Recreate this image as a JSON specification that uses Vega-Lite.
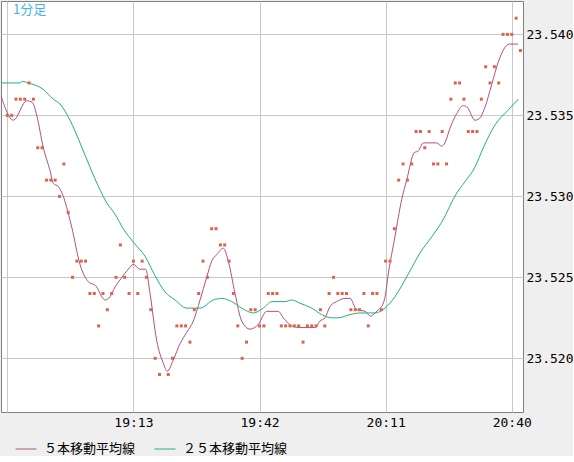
{
  "$schema": "https://vega.github.io/schema/vega-lite/v6.json",
  "description": "1分足 price dots with 5 and 25 bar moving averages",
  "width": 522,
  "height": 411,
  "padding": {"left": 1, "top": 1, "right": 0, "bottom": 0},
  "background": "#EFEFEF",
  "config": {
    "view": {"fill": "white", "stroke": "#808080"},
    "axis": {
      "grid": true,
      "gridColor": "#C8C8C8",
      "gridWidth": 1,
      "ticks": false,
      "domain": false,
      "title": null,
      "labelFont": "DejaVu Sans Mono",
      "labelFontSize": 13,
      "labelColor": "#000000",
      "labelOverlap": false
    }
  },
  "title": {
    "text": "1分足",
    "anchor": "start",
    "frame": "group",
    "orient": "top",
    "offset": -16,
    "baseline": "top",
    "dx": 12,
    "font": "Noto Sans CJK JP",
    "fontSize": 13,
    "fontWeight": "normal",
    "color": "#40B4E8"
  },
  "encoding": {
    "x": {
      "field": "t",
      "type": "temporal",
      "scale": {
        "domain": [
          {"year": 1900, "month": 1, "date": 1, "hours": 18, "minutes": 42, "seconds": 33},
          {"year": 1900, "month": 1, "date": 1, "hours": 20, "minutes": 42, "seconds": 35}
        ]
      },
      "axis": {
        "values": [
          {"year": 1900, "month": 1, "date": 1, "hours": 18, "minutes": 44},
          {"year": 1900, "month": 1, "date": 1, "hours": 19, "minutes": 13},
          {"year": 1900, "month": 1, "date": 1, "hours": 19, "minutes": 42},
          {"year": 1900, "month": 1, "date": 1, "hours": 20, "minutes": 11},
          {"year": 1900, "month": 1, "date": 1, "hours": 20, "minutes": 40}
        ],
        "labelExpr": "hours(datum.value) == 18 ? '' : timeFormat(datum.value, '%H:%M')",
        "labelPadding": 4,
        "labelFlush": false
      }
    },
    "y": {
      "field": "v",
      "type": "quantitative",
      "scale": {"domain": [23.516685, 23.54206], "zero": false, "nice": false},
      "axis": {
        "orient": "right",
        "values": [23.52, 23.525, 23.53, 23.535, 23.54],
        "format": ".3f",
        "labelPadding": 3
      }
    }
  },
  "layer": [
    {
      "data": {
        "format": {"parse": {"t": "date:'%H:%M:%S'"}},
        "values": [
          {"s": "５本移動平均線", "t": "18:42:33", "v": 23.5362},
          {"s": "５本移動平均線", "t": "18:45:23", "v": 23.5347},
          {"s": "５本移動平均線", "t": "18:48:28", "v": 23.5359},
          {"s": "５本移動平均線", "t": "18:49:45", "v": 23.5358},
          {"s": "５本移動平均線", "t": "18:50:46", "v": 23.5350},
          {"s": "５本移動平均線", "t": "18:52:17", "v": 23.5330},
          {"s": "５本移動平均線", "t": "18:53:49", "v": 23.5316},
          {"s": "５本移動平均線", "t": "18:54:35", "v": 23.5308},
          {"s": "５本移動平均線", "t": "18:55:44", "v": 23.5306},
          {"s": "５本移動平均線", "t": "18:56:53", "v": 23.5300},
          {"s": "５本移動平均線", "t": "18:57:40", "v": 23.5293},
          {"s": "５本移動平均線", "t": "18:58:49", "v": 23.5281},
          {"s": "５本移動平均線", "t": "19:00:43", "v": 23.5258},
          {"s": "５本移動平均線", "t": "19:02:24", "v": 23.5248},
          {"s": "５本移動平均線", "t": "19:04:34", "v": 23.5244},
          {"s": "５本移動平均線", "t": "19:05:43", "v": 23.5238},
          {"s": "５本移動平均線", "t": "19:06:28", "v": 23.5236},
          {"s": "５本移動平均線", "t": "19:07:37", "v": 23.5238},
          {"s": "５本移動平均線", "t": "19:08:46", "v": 23.5244},
          {"s": "５本移動平均線", "t": "19:10:04", "v": 23.5249},
          {"s": "５本移動平均線", "t": "19:11:49", "v": 23.5255},
          {"s": "５本移動平均線", "t": "19:12:58", "v": 23.5258},
          {"s": "５本移動平均線", "t": "19:14:31", "v": 23.5255},
          {"s": "５本移動平均線", "t": "19:15:49", "v": 23.5255},
          {"s": "５本移動平均線", "t": "19:16:49", "v": 23.5240},
          {"s": "５本移動平均線", "t": "19:18:21", "v": 23.5211},
          {"s": "５本移動平均線", "t": "19:19:52", "v": 23.5197},
          {"s": "５本移動平均線", "t": "19:20:47", "v": 23.5192},
          {"s": "５本移動平均線", "t": "19:22:10", "v": 23.5199},
          {"s": "５本移動平均線", "t": "19:23:43", "v": 23.5209},
          {"s": "５本移動平均線", "t": "19:25:15", "v": 23.5216},
          {"s": "５本移動平均線", "t": "19:26:46", "v": 23.5223},
          {"s": "５本移動平均線", "t": "19:28:19", "v": 23.5236},
          {"s": "５本移動平均線", "t": "19:29:51", "v": 23.5250},
          {"s": "５本移動平均線", "t": "19:31:00", "v": 23.5260},
          {"s": "５本移動平均線", "t": "19:32:09", "v": 23.5264},
          {"s": "５本移動平均線", "t": "19:33:40", "v": 23.5268},
          {"s": "５本移動平均線", "t": "19:34:49", "v": 23.5260},
          {"s": "５本移動平均線", "t": "19:36:22", "v": 23.5240},
          {"s": "５本移動平均線", "t": "19:37:54", "v": 23.5223},
          {"s": "５本移動平均線", "t": "19:39:49", "v": 23.5218},
          {"s": "５本移動平均線", "t": "19:41:43", "v": 23.5221},
          {"s": "５本移動平均線", "t": "19:43:38", "v": 23.5229},
          {"s": "５本移動平均線", "t": "19:46:19", "v": 23.5229},
          {"s": "５本移動平均線", "t": "19:47:28", "v": 23.5225},
          {"s": "５本移動平均線", "t": "19:49:23", "v": 23.5220},
          {"s": "５本移動平均線", "t": "19:51:18", "v": 23.5219},
          {"s": "５本移動平均線", "t": "19:54:45", "v": 23.5219},
          {"s": "５本移動平均線", "t": "19:55:54", "v": 23.5223},
          {"s": "５本移動平均線", "t": "19:57:03", "v": 23.5225},
          {"s": "５本移動平均線", "t": "19:58:12", "v": 23.5232},
          {"s": "５本移動平均線", "t": "19:59:44", "v": 23.5235},
          {"s": "５本移動平均線", "t": "20:01:39", "v": 23.5237},
          {"s": "５本移動平均線", "t": "20:02:48", "v": 23.5237},
          {"s": "５本移動平均線", "t": "20:04:20", "v": 23.5230},
          {"s": "５本移動平均線", "t": "20:06:15", "v": 23.5229},
          {"s": "５本移動平均線", "t": "20:07:34", "v": 23.5226},
          {"s": "５本移動平均線", "t": "20:08:33", "v": 23.5228},
          {"s": "５本移動平均線", "t": "20:09:19", "v": 23.5230},
          {"s": "５本移動平均線", "t": "20:10:05", "v": 23.5232},
          {"s": "５本移動平均線", "t": "20:10:52", "v": 23.5238},
          {"s": "５本移動平均線", "t": "20:11:36", "v": 23.5252},
          {"s": "５本移動平均線", "t": "20:13:08", "v": 23.5275},
          {"s": "５本移動平均線", "t": "20:14:41", "v": 23.5298},
          {"s": "５本移動平均線", "t": "20:15:50", "v": 23.5310},
          {"s": "５本移動平均線", "t": "20:17:35", "v": 23.5327},
          {"s": "５本移動平均線", "t": "20:18:30", "v": 23.5328},
          {"s": "５本移動平均線", "t": "20:19:39", "v": 23.5333},
          {"s": "５本移動平均線", "t": "20:22:44", "v": 23.5333},
          {"s": "５本移動平均線", "t": "20:23:53", "v": 23.5331},
          {"s": "５本移動平均線", "t": "20:24:38", "v": 23.5333},
          {"s": "５本移動平均線", "t": "20:25:47", "v": 23.5342},
          {"s": "５本移動平均線", "t": "20:27:20", "v": 23.5351},
          {"s": "５本移動平均線", "t": "20:28:51", "v": 23.5356},
          {"s": "５本移動平均線", "t": "20:29:46", "v": 23.5355},
          {"s": "５本移動平均線", "t": "20:31:32", "v": 23.5347},
          {"s": "５本移動平均線", "t": "20:32:32", "v": 23.5348},
          {"s": "５本移動平均線", "t": "20:33:50", "v": 23.5355},
          {"s": "５本移動平均線", "t": "20:35:23", "v": 23.5369},
          {"s": "５本移動平均線", "t": "20:36:54", "v": 23.5383},
          {"s": "５本移動平均線", "t": "20:39:26", "v": 23.5394},
          {"s": "５本移動平均線", "t": "20:41:30", "v": 23.5394},
          {"s": "２５本移動平均線", "t": "18:42:33", "v": 23.5370},
          {"s": "２５本移動平均線", "t": "18:46:55", "v": 23.5370},
          {"s": "２５本移動平均線", "t": "18:47:19", "v": 23.5371},
          {"s": "２５本移動平均線", "t": "18:48:50", "v": 23.5370},
          {"s": "２５本移動平均線", "t": "18:52:17", "v": 23.5366},
          {"s": "２５本移動平均線", "t": "18:54:35", "v": 23.5360},
          {"s": "２５本移動平均線", "t": "18:56:07", "v": 23.5357},
          {"s": "２５本移動平均線", "t": "18:58:25", "v": 23.5347},
          {"s": "２５本移動平均線", "t": "19:00:43", "v": 23.5333},
          {"s": "２５本移動平均線", "t": "19:03:01", "v": 23.5318},
          {"s": "２５本移動平均線", "t": "19:05:19", "v": 23.5304},
          {"s": "２５本移動平均線", "t": "19:06:52", "v": 23.5296},
          {"s": "２５本移動平均線", "t": "19:08:46", "v": 23.5289},
          {"s": "２５本移動平均線", "t": "19:10:40", "v": 23.5280},
          {"s": "２５本移動平均線", "t": "19:13:12", "v": 23.5271},
          {"s": "２５本移動平均線", "t": "19:15:40", "v": 23.5263},
          {"s": "２５本移動平均線", "t": "19:17:58", "v": 23.5251},
          {"s": "２５本移動平均線", "t": "19:20:16", "v": 23.5241},
          {"s": "２５本移動平均線", "t": "19:22:34", "v": 23.5236},
          {"s": "２５本移動平均線", "t": "19:25:15", "v": 23.5231},
          {"s": "２５本移動平均線", "t": "19:28:19", "v": 23.5231},
          {"s": "２５本移動平均線", "t": "19:31:22", "v": 23.5236},
          {"s": "２５本移動平均線", "t": "19:33:18", "v": 23.5237},
          {"s": "２５本移動平均線", "t": "19:35:36", "v": 23.5235},
          {"s": "２５本移動平均線", "t": "19:37:54", "v": 23.5231},
          {"s": "２５本移動平均線", "t": "19:40:34", "v": 23.5228},
          {"s": "２５本移動平均線", "t": "19:42:52", "v": 23.5231},
          {"s": "２５本移動平均線", "t": "19:44:47", "v": 23.5235},
          {"s": "２５本移動平均線", "t": "19:47:51", "v": 23.5235},
          {"s": "２５本移動平均線", "t": "19:49:23", "v": 23.5236},
          {"s": "２５本移動平均線", "t": "19:51:18", "v": 23.5234},
          {"s": "２５本移動平均線", "t": "19:53:59", "v": 23.5231},
          {"s": "２５本移動平均線", "t": "19:56:17", "v": 23.5227},
          {"s": "２５本移動平均線", "t": "19:58:35", "v": 23.5225},
          {"s": "２５本移動平均線", "t": "20:00:07", "v": 23.5225},
          {"s": "２５本移動平均線", "t": "20:02:48", "v": 23.5227},
          {"s": "２５本移動平均線", "t": "20:05:06", "v": 23.5228},
          {"s": "２５本移動平均線", "t": "20:08:33", "v": 23.5228},
          {"s": "２５本移動平均線", "t": "20:10:52", "v": 23.5231},
          {"s": "２５本移動平均線", "t": "20:13:08", "v": 23.5238},
          {"s": "２５本移動平均線", "t": "20:16:12", "v": 23.5252},
          {"s": "２５本移動平均線", "t": "20:18:53", "v": 23.5265},
          {"s": "２５本移動平均線", "t": "20:21:35", "v": 23.5275},
          {"s": "２５本移動平均線", "t": "20:23:53", "v": 23.5284},
          {"s": "２５本移動平均線", "t": "20:27:20", "v": 23.5302},
          {"s": "２５本移動平均線", "t": "20:29:14", "v": 23.5309},
          {"s": "２５本移動平均線", "t": "20:31:32", "v": 23.5318},
          {"s": "２５本移動平均線", "t": "20:33:27", "v": 23.5330},
          {"s": "２５本移動平均線", "t": "20:36:08", "v": 23.5344},
          {"s": "２５本移動平均線", "t": "20:39:04", "v": 23.5353},
          {"s": "２５本移動平均線", "t": "20:41:30", "v": 23.5360}
        ]
      },
      "mark": {"type": "line", "interpolate": "monotone", "strokeWidth": 1, "clip": true},
      "encoding": {
        "color": {
          "field": "s",
          "type": "nominal",
          "sort": null,
          "scale": {
            "domain": ["５本移動平均線", "２５本移動平均線"],
            "range": ["#B0507E", "#22B07E"]
          },
          "legend": {
            "orient": "none",
            "legendX": 14,
            "legendY": 437,
            "direction": "horizontal",
            "title": null,
            "padding": 0,
            "symbolType": "stroke",
            "symbolSize": 441,
            "symbolStrokeWidth": 1,
            "labelFont": "Noto Sans CJK JP",
            "labelFontSize": 13,
            "labelColor": "#000000",
            "labelOffset": 7,
            "columnPadding": 16
          }
        }
      }
    },
    {
      "data": {
        "format": {"parse": {"t": "date:'%H:%M'"}},
        "values": [
          {"t": "18:44", "v": 23.535}, {"t": "18:45", "v": 23.535}, {"t": "18:46", "v": 23.536},
          {"t": "18:47", "v": 23.536}, {"t": "18:48", "v": 23.536}, {"t": "18:49", "v": 23.537},
          {"t": "18:50", "v": 23.536}, {"t": "18:51", "v": 23.533}, {"t": "18:52", "v": 23.533},
          {"t": "18:53", "v": 23.531}, {"t": "18:54", "v": 23.531}, {"t": "18:55", "v": 23.531},
          {"t": "18:56", "v": 23.530}, {"t": "18:57", "v": 23.532}, {"t": "18:58", "v": 23.529},
          {"t": "18:59", "v": 23.525}, {"t": "19:00", "v": 23.526}, {"t": "19:01", "v": 23.526},
          {"t": "19:02", "v": 23.526}, {"t": "19:03", "v": 23.524}, {"t": "19:04", "v": 23.524},
          {"t": "19:05", "v": 23.522}, {"t": "19:06", "v": 23.524}, {"t": "19:07", "v": 23.523},
          {"t": "19:08", "v": 23.524}, {"t": "19:09", "v": 23.525}, {"t": "19:10", "v": 23.527},
          {"t": "19:11", "v": 23.525}, {"t": "19:12", "v": 23.524}, {"t": "19:13", "v": 23.526},
          {"t": "19:14", "v": 23.524}, {"t": "19:15", "v": 23.526}, {"t": "19:16", "v": 23.525},
          {"t": "19:17", "v": 23.523}, {"t": "19:18", "v": 23.520}, {"t": "19:19", "v": 23.519},
          {"t": "19:21", "v": 23.519}, {"t": "19:22", "v": 23.520}, {"t": "19:23", "v": 23.522},
          {"t": "19:24", "v": 23.522}, {"t": "19:25", "v": 23.522}, {"t": "19:26", "v": 23.521},
          {"t": "19:27", "v": 23.523}, {"t": "19:28", "v": 23.524}, {"t": "19:29", "v": 23.526},
          {"t": "19:30", "v": 23.525}, {"t": "19:31", "v": 23.528}, {"t": "19:32", "v": 23.528},
          {"t": "19:33", "v": 23.527}, {"t": "19:34", "v": 23.527}, {"t": "19:35", "v": 23.526},
          {"t": "19:36", "v": 23.524}, {"t": "19:37", "v": 23.522}, {"t": "19:38", "v": 23.520},
          {"t": "19:39", "v": 23.521}, {"t": "19:40", "v": 23.523}, {"t": "19:41", "v": 23.523},
          {"t": "19:42", "v": 23.522}, {"t": "19:43", "v": 23.522}, {"t": "19:44", "v": 23.524},
          {"t": "19:45", "v": 23.524}, {"t": "19:46", "v": 23.524}, {"t": "19:47", "v": 23.522},
          {"t": "19:48", "v": 23.522}, {"t": "19:49", "v": 23.522}, {"t": "19:50", "v": 23.522},
          {"t": "19:51", "v": 23.522}, {"t": "19:52", "v": 23.521}, {"t": "19:53", "v": 23.522},
          {"t": "19:54", "v": 23.522}, {"t": "19:55", "v": 23.522}, {"t": "19:56", "v": 23.523},
          {"t": "19:57", "v": 23.522}, {"t": "19:58", "v": 23.524}, {"t": "19:59", "v": 23.525},
          {"t": "20:00", "v": 23.524}, {"t": "20:01", "v": 23.524}, {"t": "20:02", "v": 23.524},
          {"t": "20:03", "v": 23.523}, {"t": "20:04", "v": 23.523}, {"t": "20:05", "v": 23.523},
          {"t": "20:06", "v": 23.524}, {"t": "20:07", "v": 23.522}, {"t": "20:08", "v": 23.524},
          {"t": "20:09", "v": 23.524}, {"t": "20:10", "v": 23.523}, {"t": "20:11", "v": 23.526},
          {"t": "20:12", "v": 23.526}, {"t": "20:13", "v": 23.528}, {"t": "20:14", "v": 23.531},
          {"t": "20:15", "v": 23.532}, {"t": "20:16", "v": 23.531}, {"t": "20:17", "v": 23.532},
          {"t": "20:18", "v": 23.534}, {"t": "20:19", "v": 23.534}, {"t": "20:20", "v": 23.533},
          {"t": "20:21", "v": 23.534}, {"t": "20:22", "v": 23.532}, {"t": "20:23", "v": 23.532},
          {"t": "20:24", "v": 23.534}, {"t": "20:25", "v": 23.532}, {"t": "20:26", "v": 23.536},
          {"t": "20:27", "v": 23.537}, {"t": "20:28", "v": 23.537}, {"t": "20:29", "v": 23.536},
          {"t": "20:30", "v": 23.534}, {"t": "20:31", "v": 23.534}, {"t": "20:32", "v": 23.534},
          {"t": "20:33", "v": 23.536}, {"t": "20:34", "v": 23.538}, {"t": "20:35", "v": 23.537},
          {"t": "20:36", "v": 23.538}, {"t": "20:37", "v": 23.537}, {"t": "20:38", "v": 23.540},
          {"t": "20:39", "v": 23.540}, {"t": "20:40", "v": 23.540}, {"t": "20:41", "v": 23.541},
          {"t": "20:42", "v": 23.539}
        ]
      },
      "mark": {"type": "square", "size": 9, "filled": true, "opacity": 1, "color": "#D8644A", "clip": true}
    }
  ]
}
